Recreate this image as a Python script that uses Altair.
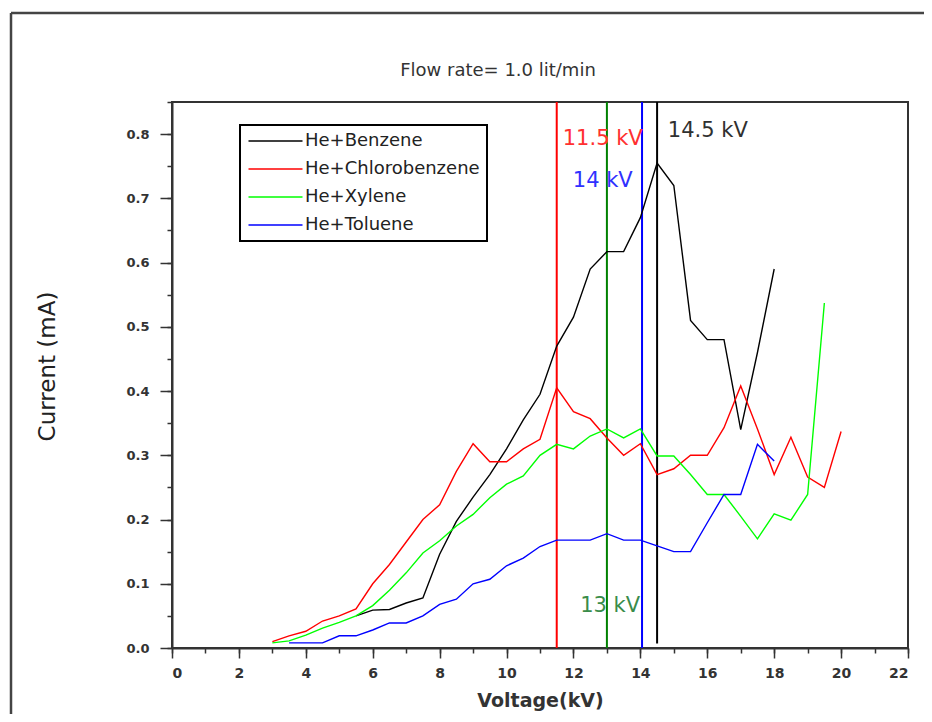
import altair as alt
import pandas as pd

# ---------------- data ----------------
series_names = ["He+Benzene", "He+Chlorobenzene", "He+Xylene", "He+Toluene"]
series_colors = ["#000000", "#ff0000", "#00ff00", "#0000ff"]

voltage_benzene = [5.5, 6.0, 6.5, 7.0, 7.5, 8.0, 8.5, 9.0, 9.5, 10.0, 10.5, 11.0, 11.5,
                   12.0, 12.5, 13.0, 13.5, 14.0, 14.5, 15.0, 15.5, 16.0, 16.5, 17.0, 17.5, 18.0]
current_benzene = [0.05, 0.059, 0.06, 0.07, 0.078, 0.146, 0.197, 0.235, 0.27, 0.31, 0.355, 0.395, 0.47,
                   0.515, 0.59, 0.617, 0.617, 0.67, 0.755, 0.72, 0.51, 0.48, 0.48, 0.34, 0.46, 0.59]

voltage_chloro = [3.0, 3.5, 4.0, 4.5, 5.0, 5.5, 6.0, 6.5, 7.0, 7.5, 8.0, 8.5, 9.0, 9.5, 10.0, 10.5,
                  11.0, 11.5, 12.0, 12.5, 13.0, 13.5, 14.0, 14.5, 15.0, 15.5, 16.0, 16.5, 17.0, 17.5,
                  18.0, 18.5, 19.0, 19.5, 20.0]
current_chloro = [0.01, 0.019, 0.026, 0.042, 0.05, 0.061, 0.1, 0.13, 0.165, 0.2, 0.223, 0.275, 0.318,
                  0.29, 0.29, 0.31, 0.325, 0.405, 0.368, 0.357, 0.327, 0.3, 0.318, 0.27, 0.279, 0.3,
                  0.3, 0.343, 0.408, 0.341, 0.27, 0.328, 0.266, 0.25, 0.337]

voltage_xylene = [3.0, 3.5, 4.0, 4.5, 5.0, 5.5, 6.0, 6.5, 7.0, 7.5, 8.0, 8.5, 9.0, 9.5, 10.0, 10.5,
                  11.0, 11.5, 12.0, 12.5, 13.0, 13.5, 14.0, 14.5, 15.0, 15.5, 16.0, 16.5, 17.0, 17.5,
                  18.0, 18.5, 19.0, 19.5]
current_xylene = [0.008, 0.011, 0.02, 0.031, 0.04, 0.05, 0.066, 0.09, 0.117, 0.148, 0.167, 0.19, 0.208,
                  0.234, 0.255, 0.268, 0.3, 0.317, 0.31, 0.33, 0.341, 0.327, 0.341, 0.299, 0.299, 0.27,
                  0.239, 0.239, 0.205, 0.17, 0.209, 0.199, 0.239, 0.537]

voltage_toluene = [3.5, 4.0, 4.5, 5.0, 5.5, 6.0, 6.5, 7.0, 7.5, 8.0, 8.5, 9.0, 9.5, 10.0, 10.5, 11.0,
                   11.5, 12.0, 12.5, 13.0, 13.5, 14.0, 14.5, 15.0, 15.5, 16.0, 16.5, 17.0, 17.5, 18.0]
current_toluene = [0.008, 0.008, 0.008, 0.019, 0.019, 0.028, 0.039, 0.039, 0.05, 0.068, 0.076, 0.1, 0.107,
                   0.128, 0.14, 0.158, 0.168, 0.168, 0.168, 0.178, 0.168, 0.168, 0.159, 0.15, 0.15, 0.195,
                   0.239, 0.239, 0.317, 0.291]

# vertical marker lines
marker_kv = [11.5, 13.0, 14.05, 14.5]
marker_bottom = [0.0, 0.0, 0.0, 0.007]
marker_top = [0.85, 0.85, 0.85, 0.85]
marker_colors = ["#ff0000", "#008000", "#0000ff", "#000000"]

# marker annotations
label_texts = ["11.5 kV", "13 kV", "14 kV", "14.5 kV"]
label_x = [11.68, 12.2, 11.98, 14.82]
label_y = [0.792, 0.065, 0.727, 0.805]
label_colors = ["#ff3030", "#3a8c4a", "#3030ff", "#303030"]

chart_title = "Flow rate= 1.0 lit/min"

x_major_ticks = list(range(0, 23, 2))
x_minor_ticks = list(range(0, 23))
y_major_ticks = [round(0.1 * i, 2) for i in range(9)]
y_minor_ticks = [round(0.05 * i, 2) for i in range(18)]

# ---------------- tables ----------------
rows = []
for name, xs, ys in zip(series_names,
                        [voltage_benzene, voltage_chloro, voltage_xylene, voltage_toluene],
                        [current_benzene, current_chloro, current_xylene, current_toluene]):
    for xv, yv in zip(xs, ys):
        rows.append({"series": name, "voltage": xv, "current": yv})
df = pd.DataFrame(rows)

df_markers = pd.DataFrame({"kv": marker_kv, "lo": marker_bottom, "hi": marker_top, "c": marker_colors})
df_labels = pd.DataFrame({"x": label_x, "y": label_y, "label": label_texts, "c": label_colors})
df_one = pd.DataFrame({"k": [0]})

W, H = 736, 546
x_scale = alt.Scale(domain=[0, 22], nice=False, zero=False)
y_scale = alt.Scale(domain=[0, 0.85], nice=False, zero=False)

TICK_FONT = "DejaVu Sans"

x_major = alt.Axis(orient="bottom", values=x_major_ticks, tickSize=10, tickWidth=1.5, tickColor="#333",
                   domainColor="#333", domainWidth=2, labelFont=TICK_FONT, labelFontSize=14,
                   labelFontWeight="bold", labelColor="#333", labelPadding=8, grid=False,
                   title="Voltage(kV)", titleFont="DejaVu Sans", titleFontSize=19, titleFontWeight="bold",
                   titleColor="#333", titleX=W / 2, titleY=52, titleAlign="center", titleBaseline="middle")
x_minor = alt.Axis(orient="bottom", values=x_minor_ticks, tickSize=5, tickWidth=1.5, tickColor="#333",
                   labels=False, domain=False, grid=False, title="")
y_major = alt.Axis(orient="left", values=y_major_ticks, format=".1f", tickSize=12, tickWidth=1.5,
                   tickColor="#333", domainColor="#333", domainWidth=2, labelFont=TICK_FONT,
                   labelFontSize=13, labelFontWeight="bold", labelColor="#333", labelPadding=11, grid=False,
                   title="Current (mA)", titleFont="DejaVu Sans", titleFontSize=23, titleFontWeight="normal",
                   titleColor="#222", titleX=-125, titleY=264, titleAngle=-90, titleAlign="center",
                   titleBaseline="middle")
y_minor = alt.Axis(orient="left", values=y_minor_ticks, tickSize=5, tickWidth=1.5, tickColor="#333",
                   labels=False, domain=False, grid=False, title="")

lines = alt.Chart(df).mark_line(strokeWidth=1.4).encode(
    x=alt.X("voltage:Q", scale=x_scale, axis=x_major),
    y=alt.Y("current:Q", scale=y_scale, axis=y_major),
    color=alt.Color("series:N", scale=alt.Scale(domain=series_names, range=series_colors),
                    legend=alt.Legend(orient="none", legendX=68, legendY=23, title=None,
                                      symbolType="M-1,0H6.2", symbolSize=225, symbolStrokeWidth=1.5,
                                      labelFont="DejaVu Sans", labelFontSize=18, labelColor="#222",
                                      labelOffset=40, labelLimit=400, rowPadding=10, padding=7,
                                      strokeColor="#000", fillColor="#ffffff")),
    detail="series:N",
)

markers = alt.Chart(df_markers).mark_rule(strokeWidth=2).encode(
    x=alt.X("kv:Q", scale=x_scale, axis=x_minor),
    y=alt.Y("lo:Q", scale=y_scale, axis=y_minor),
    y2="hi:Q",
    stroke=alt.Stroke("c:N", scale=None, legend=None),
)

labels = alt.Chart(df_labels).mark_text(align="left", baseline="middle", font="DejaVu Sans",
                                        fontSize=21).encode(
    x=alt.X("x:Q", scale=x_scale, axis=None),
    y=alt.Y("y:Q", scale=y_scale, axis=None),
    text="label:N",
    fill=alt.Fill("c:N", scale=None, legend=None),
)

title_mark = alt.Chart(df_one).mark_text(text=chart_title, align="center", baseline="middle",
                                         font="DejaVu Sans", fontSize=18, color="#333").encode(
    x=alt.value(326), y=alt.value(-31))

frame_top = alt.Chart(df_one).mark_rule(color="#444", strokeWidth=2.5).encode(
    x=alt.value(-161), x2=alt.value(W + 40), y=alt.value(-89))
frame_left = alt.Chart(df_one).mark_rule(color="#444", strokeWidth=2.5).encode(
    x=alt.value(-161), y=alt.value(-89), y2=alt.value(H + 80))

chart = alt.layer(frame_top, frame_left, title_mark, markers, lines, labels).resolve_axis(
    x="independent", y="independent"
).properties(
    width=W, height=H,
    autosize=alt.AutoSizeParams(type="none"),
    padding={"left": 164, "top": 94, "right": 16, "bottom": 66},
    background="white",
).configure_view(stroke="#333", strokeWidth=2).configure_legend(strokeWidth=2)

chart.save("out.html", embed_options={"renderer": "svg", "actions": False})
